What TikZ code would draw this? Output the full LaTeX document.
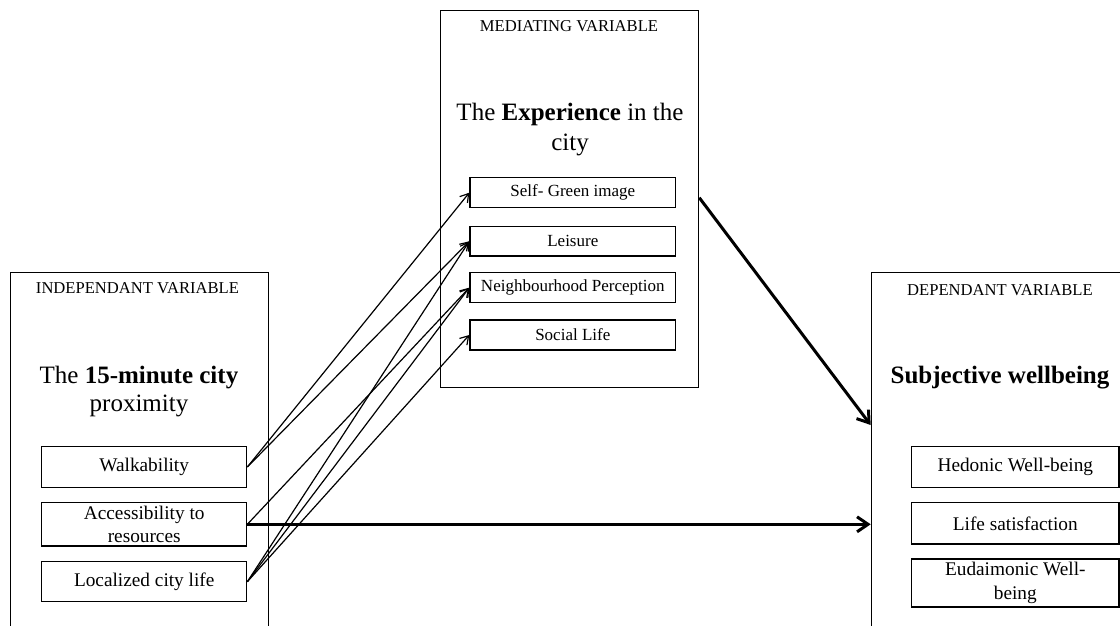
\documentclass[tikz,border=0pt]{standalone}
\usepackage{fontspec}
\setmainfont{Liberation Serif}
\usetikzlibrary{arrows.meta}

\newcommand{\labfont}{\fontsize{16.6}{20}\selectfont}
\newcommand{\ttlfont}{\fontsize{25}{28.5}\selectfont}
\newcommand{\itmfont}{\fontsize{19.3}{23.5}\selectfont}
\newcommand{\medfont}{\fontsize{17}{20}\selectfont}

\begin{document}
\begin{tikzpicture}[x=1pt, y=-1pt,
  varbox/.style={draw, line width=1.3pt, anchor=north west, minimum width=258pt, inner sep=0pt},
  itembox/.style={draw, line width=1.3pt, inner sep=0pt, align=center},
  linkarrow/.style={-{Straight Barb[length=8pt,width=10pt]}, line width=1.2pt},
  mainarrow/.style={-{Straight Barb[length=11pt,width=15pt]}, line width=3pt}]

  \useasboundingbox (0,0) rectangle (1120,626);
  \clip (0,0) rectangle (1120,626);

  %% 独立変数（左）
  \node[varbox, minimum height=400pt] (indep) at (10,271.7) {};
  \node[font=\labfont, anchor=base] (indeplab) at (137.5,293) {INDEPENDANT VARIABLE};
  \node[font=\ttlfont, anchor=base] (indepttl) at (139,383.3) {The \textbf{15-minute city}};
  \node[font=\ttlfont, anchor=base] (indepttlb) at (139,411.7) {proximity};
  \node[itembox, font=\itmfont, minimum width=205pt, minimum height=40.6pt] (walk)
    at (144.2,467) {Walkability};
  \node[itembox, font=\itmfont, minimum width=205pt, minimum height=43.3pt] (access)
    at (144.2,524.3) {Accessibility to\\resources};
  \node[itembox, font=\itmfont, minimum width=205pt, minimum height=40pt] (local)
    at (144.2,581.7) {Localized city life};

  %% 媒介変数（中央）
  \node[varbox, minimum height=376.7pt] (exper) at (440,10) {};
  \node[font=\labfont, anchor=base] (experlab) at (569,31.7) {MEDIATING VARIABLE};
  \node[font=\ttlfont, anchor=base] (experttl) at (570,120.7) {The \textbf{Experience} in the};
  \node[font=\ttlfont, anchor=base] (experttlb) at (570,150) {city};
  \node[itembox, font=\medfont, minimum width=205.7pt, minimum height=30pt] (green)
    at (572.8,192.7) {Self- Green image};
  \node[itembox, font=\medfont, minimum width=205.7pt, minimum height=29.3pt] (leisure)
    at (572.8,241.3) {Leisure};
  \node[itembox, font=\medfont, minimum width=205.7pt, minimum height=30pt] (neigh)
    at (572.8,287.7) {Neighbourhood Perception};
  \node[itembox, font=\medfont, minimum width=205.7pt, minimum height=30pt] (social)
    at (572.8,335) {Social Life};

  %% 従属変数（右）
  \node[varbox, minimum height=400pt] (dep) at (870.7,271.7) {};
  \node[font=\labfont, anchor=base] (deplab) at (1000,295) {DEPENDANT VARIABLE};
  \node[font=\ttlfont, anchor=base] (depttl) at (1000,383.3) {\textbf{Subjective wellbeing}};
  \node[itembox, font=\itmfont, minimum width=207.3pt, minimum height=41pt] (hedon)
    at (1015.3,467.2) {Hedonic Well-being};
  \node[itembox, font=\itmfont, minimum width=207.3pt, minimum height=41.3pt] (lifesat)
    at (1015.3,523.3) {Life satisfaction};
  \node[itembox, font=\itmfont, minimum width=207.3pt, minimum height=48pt] (eudai)
    at (1015.3,583) {Eudaimonic Well-\\being};

  %% 細い矢印：近接性 → 体験
  \draw[linkarrow] (walk.east) -- (green.west);
  \draw[linkarrow] (walk.east) -- (leisure.west);
  \draw[linkarrow] (access.east) -- (neigh.west);
  \draw[linkarrow] (local.east) -- (leisure.west);
  \draw[linkarrow] (local.east) -- (neigh.west);
  \draw[linkarrow] (local.east) -- (social.west);

  %% 太い矢印 → 主観的幸福
  \coordinate (depin) at (870.7,425);
  \draw[mainarrow] ([yshift=-5pt]exper.east |- green.east) -- (depin);
  \draw[mainarrow] (access.east) -- (access.east -| dep.west);
\end{tikzpicture}
\end{document}
